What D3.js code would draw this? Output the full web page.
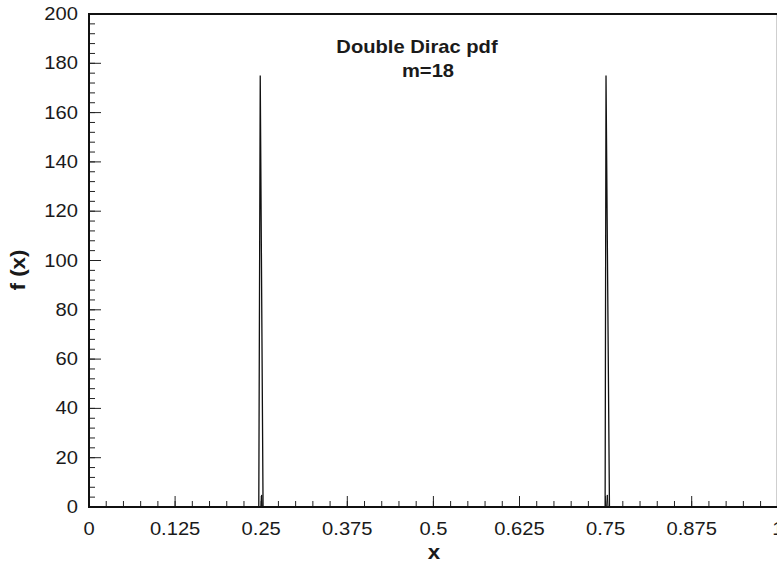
<!DOCTYPE html>
<meta charset="utf-8">
<html>
<head>
<script src="https://d3js.org/d3.v7.min.js"></script>
<style>
body { margin: 0; background: #fff; }
text { font-family: "Liberation Sans", Arial, sans-serif; fill: #1a1a1a; }
.tick-lbl { font-size: 18px; }
.ttl { font-size: 18px; font-weight: bold; }
</style>
</head>
<body>
<div id="chart"></div>
<script>
// x ticks, y ticks
var xMajor = [0, 0.125, 0.25, 0.375, 0.5, 0.625, 0.75, 0.875, 1];
var xLabels = ["0", "0.125", "0.25", "0.375", "0.5", "0.625", "0.75", "0.875", "1"];
var yMajor = [0, 20, 40, 60, 80, 100, 120, 140, 160, 180, 200];

// the pdf curve (x, f(x))
var curveX = [0, 0.2465, 0.2486, 0.2527, 0.7493, 0.7506, 0.7556, 1];
var curveY = [0, 0, 175, 0, 0, 175, 0, 0];
// tiny bumps at the base of the spikes
var bumpX = [[0.2497, 0.2507, 0.2517], [0.7515, 0.7525, 0.7535]];
var bumpY = [0, 4.9, 0];

var W = 777, H = 565;
var margin = {top: 14, bottom: 58, left: 89};
var sx = 1.12; // the reference's lettering is a bit wide

var svg = d3.select("#chart").append("svg")
  .attr("width", W).attr("height", H);

var x = d3.scaleLinear().domain([0, 1]).range([margin.left, 777.8]);
var y = d3.scaleLinear().domain([0, 200]).range([H - margin.bottom, margin.top]);

// minor ticks
var xMinor = d3.range(0, 41).map(function(i) { return i * 0.025; });
var yMinor = d3.range(0, 51).map(function(i) { return i * 4; });

var g = svg.append("g");

g.selectAll(".xmin").data(xMinor).enter().append("line")
  .attr("x1", function(d) { return x(d); }).attr("x2", function(d) { return x(d); })
  .attr("y1", y(0)).attr("y2", y(0) - 6)
  .attr("stroke", "#222").attr("stroke-width", 1);
g.selectAll(".xmaj").data(xMajor).enter().append("line")
  .attr("x1", function(d) { return x(d); }).attr("x2", function(d) { return x(d); })
  .attr("y1", y(0)).attr("y2", y(0) - 11)
  .attr("stroke", "#222").attr("stroke-width", 1);
g.selectAll(".ymin").data(yMinor).enter().append("line")
  .attr("x1", x(0)).attr("x2", x(0) + 6)
  .attr("y1", function(d) { return y(d); }).attr("y2", function(d) { return y(d); })
  .attr("stroke", "#222").attr("stroke-width", 1);
g.selectAll(".ymaj").data(yMajor).enter().append("line")
  .attr("x1", x(0)).attr("x2", x(0) + 12)
  .attr("y1", function(d) { return y(d); }).attr("y2", function(d) { return y(d); })
  .attr("stroke", "#222").attr("stroke-width", 1);

// frame
g.append("rect")
  .attr("x", x(0)).attr("y", y(200))
  .attr("width", x(1) - x(0)).attr("height", y(0) - y(200))
  .attr("fill", "none").attr("stroke", "#111").attr("stroke-width", 2);

// tick labels
g.selectAll(".xl").data(xMajor).enter().append("text")
  .attr("class", "tick-lbl")
  .attr("transform", function(d) { return "translate(" + x(d) + "," + (y(0) + 28) + ") scale(" + sx + ",1)"; })
  .attr("text-anchor", "middle")
  .text(function(d, i) { return xLabels[i]; });
g.selectAll(".yl").data(yMajor).enter().append("text")
  .attr("class", "tick-lbl")
  .attr("transform", function(d) { return "translate(" + (x(0) - 11) + "," + (y(d) + 6) + ") scale(" + sx + ",1)"; })
  .attr("text-anchor", "end")
  .text(function(d) { return d; });

// curve
var line = d3.line().x(function(d) { return x(d[0]); }).y(function(d) { return y(d[1]); });
svg.append("path")
  .datum(curveX.map(function(v, i) { return [v, curveY[i]]; }))
  .attr("d", line)
  .attr("fill", "none").attr("stroke", "#111").attr("stroke-width", 1.3);
svg.selectAll(".bump").data(bumpX).enter().append("path")
  .attr("d", function(b) { return line(b.map(function(v, i) { return [v, bumpY[i]]; })); })
  .attr("fill", "none").attr("stroke", "#111").attr("stroke-width", 1);

// titles
function title(txt, tx, ty, rot, size) {
  svg.append("text").attr("class", "ttl")
    .style("font-size", (size || 18) + "px")
    .attr("transform", "translate(" + tx + "," + ty + ")" + (rot ? " rotate(-90)" : "") + " scale(" + sx + ",1)")
    .attr("text-anchor", "middle")
    .text(txt);
}
title("Double Dirac pdf", 417, 53);
title("m=18", 428, 77);
title("x", 434, 559, false, 20);
title("f (x)", 25, 270, true, 20);
</script>
</body>
</html>
